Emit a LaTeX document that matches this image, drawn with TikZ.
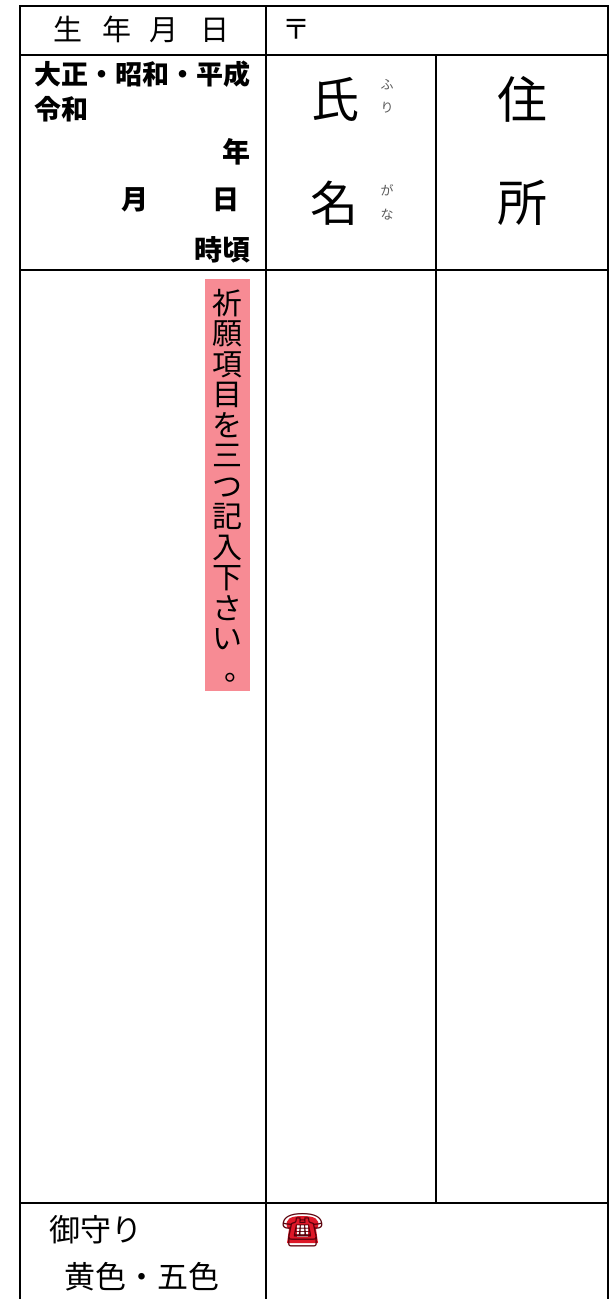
\documentclass[tikz,border=0pt]{standalone}
\usepackage{fontspec}
\newfontfamily\jp{Noto Sans CJK JP}
\newfontfamily\emo{Noto Emoji}
\definecolor{pinkc}{RGB}{247,139,148}
\definecolor{rubyc}{RGB}{90,90,90}
\definecolor{telc}{RGB}{222,24,40}
\definecolor{teld}{RGB}{90,0,10}
\begin{document}
\begin{tikzpicture}[x=1pt,y=-1pt,
  grid/.style={line width=2pt,line cap=rect},
  jt/.style={inner sep=0pt,font=\jp\fontsize{#1}{#1}\selectfont},
  jtb/.style={inner sep=0pt,font=\jp\bfseries\fontsize{#1}{#1}\selectfont},
]
\useasboundingbox (0,0) rectangle (615,1299);
% frame coordinates
\coordinate (tl) at (20,6);
\coordinate (tr) at (608,6);
\coordinate (bl) at (20,1299);
\coordinate (br) at (608,1299);
\coordinate (r1l) at (20,55);  \coordinate (r1r) at (608,55);
\coordinate (r2l) at (20,270); \coordinate (r2r) at (608,270);
\coordinate (r3l) at (20,1203);\coordinate (r3r) at (608,1203);
\coordinate (v1t) at (266,6);  \coordinate (v1b) at (266,1299);
\coordinate (v2t) at (436,55); \coordinate (v2b) at (436,1203);
\draw[grid] (bl) -- (tl) -- (tr) -- (br);
\draw[grid] (r1l) -- (r1r);
\draw[grid] (r2l) -- (r2r);
\draw[grid] (r3l) -- (r3r);
\draw[grid] (v1t) -- (v1b);
\draw[grid] (v2t) -- (v2b);
% header
\node[jt=29] (dob) at (141.5,29) {生\hspace{20pt}年\hspace{18pt}月\hspace{22pt}日};
\node[jt=28] (post) at (296,29) {〒};
% era block
\node[jtb=27,anchor=west] (era1) at (34,74) {大正・昭和・平成};
\node[jtb=27,anchor=west] (era2) at (34,109) {令和};
\node[jtb=28,anchor=east] (yr) at (251,152) {年};
\node[jtb=27] (mo) at (135,200) {月};
\node[jtb=27] (dy) at (226,200) {日};
\node[jtb=28,anchor=east] (hr) at (251,250) {時頃};
% name / address
\node[jt=48] (shi) at (335,99) {氏};
\node[jt=48] (mei) at (334,203) {名};
\node[jt=13,text=rubyc] (fu) at (387,85) {ふ};
\node[jt=13,text=rubyc] (ri) at (387,108) {り};
\node[jt=13,text=rubyc] (ga) at (387,190) {が};
\node[jt=13,text=rubyc] (na) at (387,215) {な};
\node[jt=50] (ju) at (522,99) {住};
\node[jt=50] (sho) at (522,203) {所};
% prayer box
\node[fill=pinkc,minimum width=45pt,minimum height=412pt,inner sep=0pt,anchor=north west] (pbox) at (205,279) {};
\node[inner sep=0pt,anchor=north,align=center,font=\jp\fontsize{30}{30.5}\selectfont] (ptext) at (227.5,289)
  {祈\\願\\項\\目\\を\\三\\つ\\記\\入\\下\\さ\\い\\\makebox[1em][l]{\hspace{0.4em}。}};
% bottom row
\node[jt=31,anchor=west] (omamori) at (49,1230) {御守り};
\node[jt=31,anchor=west] (color) at (64,1277) {黄色・五色};
\fill[telc] (287,1227) .. controls (285,1219) and (290,1216) .. (302.5,1216)
  .. controls (315,1216) and (320,1219) .. (318,1227) -- (316,1229) -- (318,1243) -- (287,1243) -- (289,1229) -- cycle;
\fill[white] (297,1225) rectangle (308,1237);
\node[inner sep=0pt,font=\emo\fontsize{33}{33}\selectfont,text=teld] (tel) at (302.5,1230) {☎};
\end{tikzpicture}
\end{document}
